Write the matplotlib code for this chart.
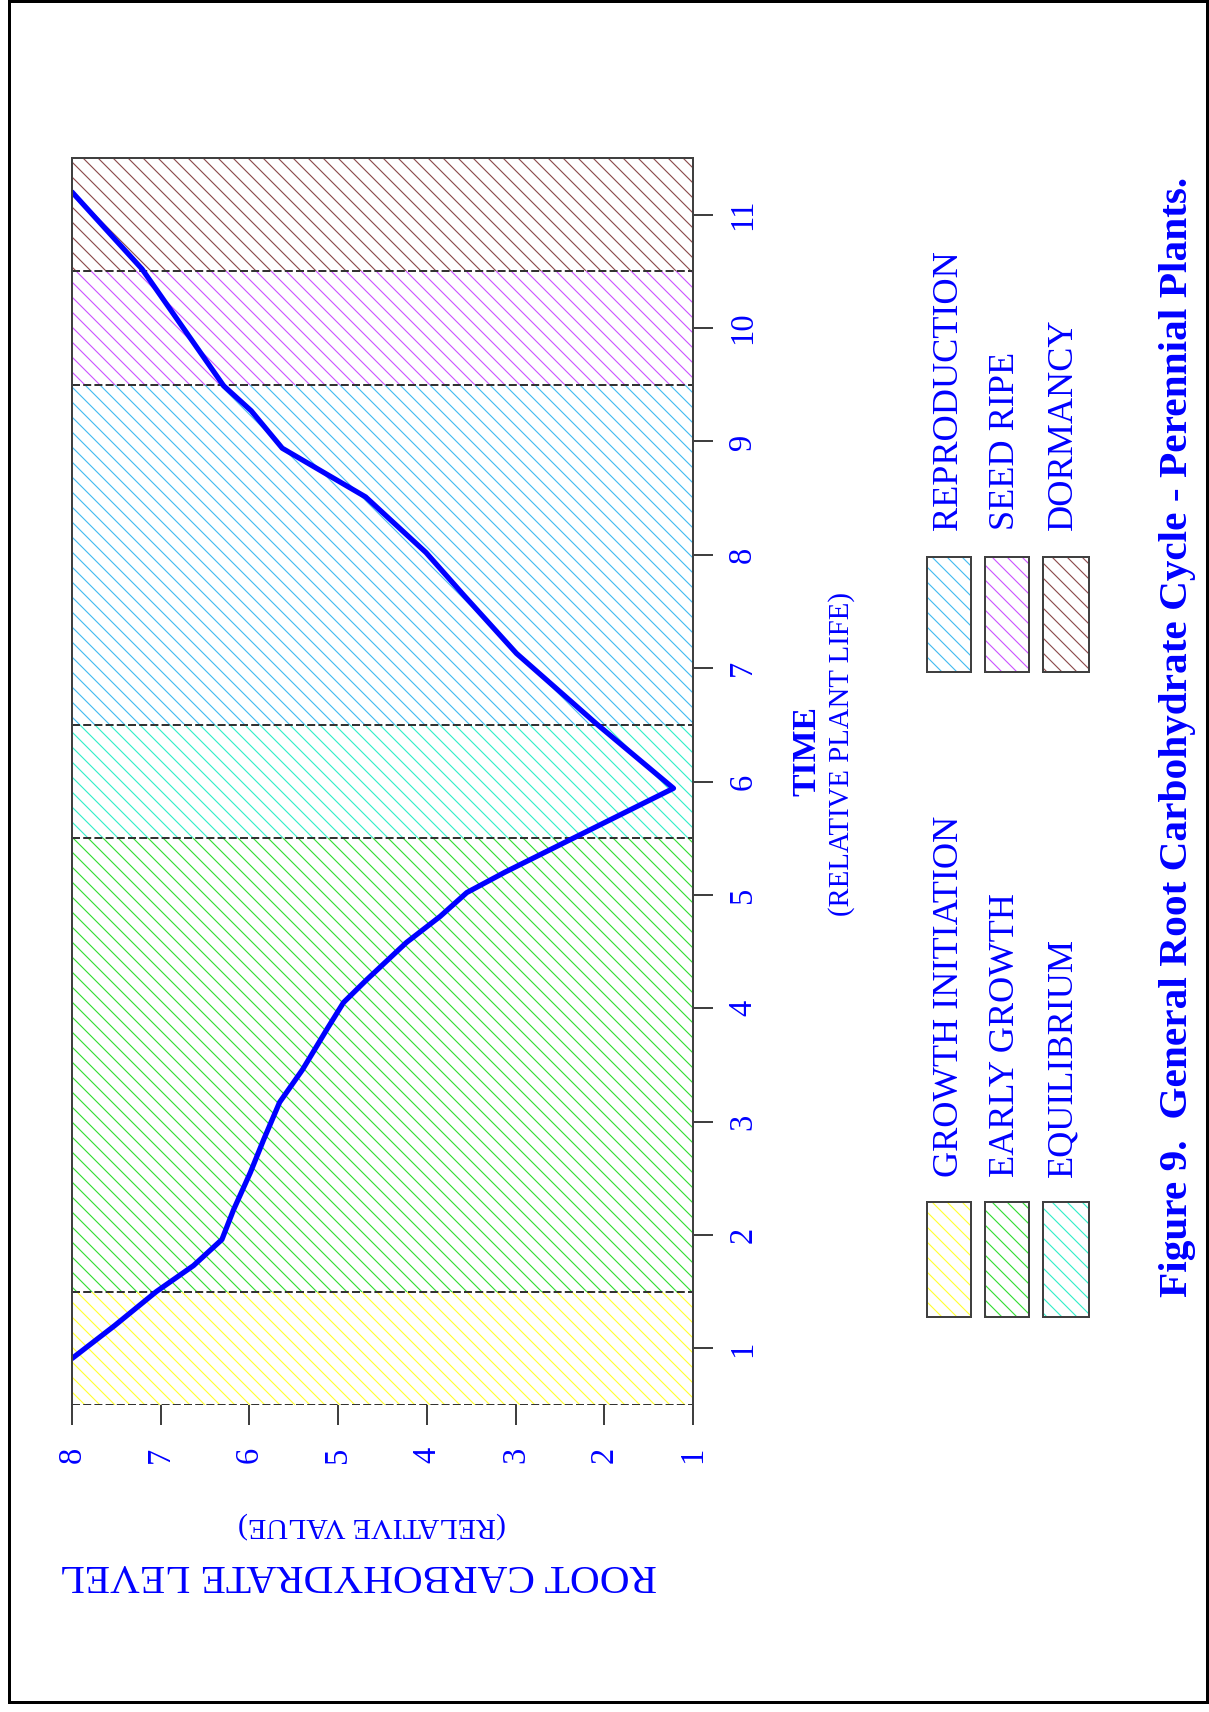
import matplotlib
matplotlib.use("Agg")
import matplotlib.pyplot as plt
from matplotlib.patches import Rectangle

# ---------------- data ----------------
time = [0.91, 1.20, 1.50, 1.73, 1.96, 2.22, 2.55, 2.84, 3.17, 3.46, 3.81, 4.05,
        4.25, 4.58, 4.81, 5.02, 5.20, 5.94, 6.51, 7.13, 7.64, 8.02, 8.51, 8.94,
        9.27, 9.49, 10.52, 11.20]
level = [8.00, 7.52, 7.05, 6.63, 6.31, 6.18, 5.99, 5.84, 5.66, 5.40, 5.13, 4.94,
         4.68, 4.23, 3.85, 3.55, 3.12, 1.22, 2.09, 2.99, 3.58, 4.01, 4.69, 5.63,
         5.98, 6.29, 7.21, 8.00]

phase_names = ["GROWTH INITIATION", "EARLY GROWTH", "EQUILIBRIUM",
               "REPRODUCTION", "SEED RIPE", "DORMANCY"]
phase_start = [0.5, 1.5, 5.5, 6.5, 9.5, 10.5]
phase_end = [1.5, 5.5, 6.5, 9.5, 10.5, 11.5]
phase_colors = ["#FFFF33", "#33DD33", "#33EEC8", "#44BBF0", "#CC55FF", "#8A4A4A"]

time_ticks = list(range(1, 12))
level_ticks = list(range(1, 9))

title = "Figure 9.  General Root Carbohydrate Cycle - Perennial Plants."

# ---------------- figure ----------------
W, H, DPI = 1209, 1712, 90
plt.rcParams['font.family'] = ['Liberation Serif', 'DejaVu Serif']
plt.rcParams['hatch.linewidth'] = 0.9
fig = plt.figure(figsize=(W / DPI, H / DPI), dpi=DPI)
fig.patch.set_facecolor("white")

def fx(px):
    return px / W

def fy(py):
    return 1 - py / H

ax = fig.add_axes([fx(72), fy(1405), fx(693) - fx(72), fy(158) - fy(1405)])
BLUE = "#0000FF"
SPINE = "#404040"
HATCH = "\\\\"

for lo, hi, c in zip(phase_start, phase_end, phase_colors):
    ax.axhspan(lo, hi, facecolor="white", edgecolor=c, hatch=HATCH, lw=0, zorder=1)
for b in phase_start:
    ax.axhline(b, color="#333333", lw=1.6, ls=(0, (4, 1.6)), zorder=2)

ax.plot(level, time, color=BLUE, lw=4.2, solid_joinstyle="round",
        solid_capstyle="round", zorder=4)

ax.set_xlim(8, 1)
ax.set_ylim(0.5, 11.5)

ax.spines["bottom"].set_visible(False)
for s in ["left", "right", "top"]:
    ax.spines[s].set_color(SPINE)
    ax.spines[s].set_linewidth(1.6)
    ax.spines[s].set_zorder(5)

ax.yaxis.tick_right()
ax.set_yticks(time_ticks)
ax.set_yticklabels([str(t) for t in time_ticks], rotation=90, va="center", ha="center")
ax.set_xticks(level_ticks)
ax.set_xticklabels([str(t) for t in level_ticks], rotation=90, va="center", ha="center")
ax.tick_params(axis="both", direction="out", length=16, width=1.6, color=SPINE,
               labelcolor=BLUE, labelsize=26)
ax.tick_params(axis="y", pad=24)
ax.tick_params(axis="x", pad=24)

# axis titles
fig.text(fx(358), fy(1574), "ROOT CARBOHYDRATE LEVEL", rotation=180, ha="center",
         va="center", fontsize=33, color=BLUE)
fig.text(fx(372), fy(1525), "(RELATIVE VALUE)", rotation=180, ha="center",
         va="center", fontsize=24, color=BLUE)
fig.text(fx(807), fy(751), "TIME", rotation=90, ha="center", va="center",
         fontsize=27, fontweight="bold", color=BLUE)
fig.text(fx(842), fy(754), "(RELATIVE PLANT LIFE)", rotation=90, ha="center",
         va="center", fontsize=23, color=BLUE)

# legend (manual, rotated)
sw_x = [(927, 971), (985, 1029), (1043, 1089)]
sw_y = [(1202, 1317), (557, 672)]
txt_x = [949, 1006, 1063]
txt_bottom = [1177, 530]
for i, (name, c) in enumerate(zip(phase_names, phase_colors)):
    col, row = divmod(i, 3)
    x0, x1 = sw_x[row]
    y0, y1 = sw_y[col]
    fig.add_artist(Rectangle((fx(x0), fy(y1)), fx(x1) - fx(x0), fy(y0) - fy(y1),
                             transform=fig.transFigure, facecolor="white",
                             edgecolor=c, hatch=HATCH, lw=0))
    fig.add_artist(Rectangle((fx(x0), fy(y1)), fx(x1) - fx(x0), fy(y0) - fy(y1),
                             transform=fig.transFigure, fill=False,
                             edgecolor=SPINE, lw=1.6))
    fig.text(fx(txt_x[row]), fy(txt_bottom[col]), name, rotation=90, ha="center",
             va="bottom", fontsize=29, color=BLUE)

fig.text(fx(1177), fy(1297), title, rotation=90, ha="center", va="bottom",
         fontsize=33, fontweight="bold", color=BLUE)

# outer frame
fig.add_artist(Rectangle((fx(9), fy(1702)), fx(1207) - fx(9), fy(1) - fy(1702),
                         transform=fig.transFigure, fill=False, edgecolor="black",
                         lw=2.4))

fig.savefig("out.png", dpi=DPI, facecolor="white")
